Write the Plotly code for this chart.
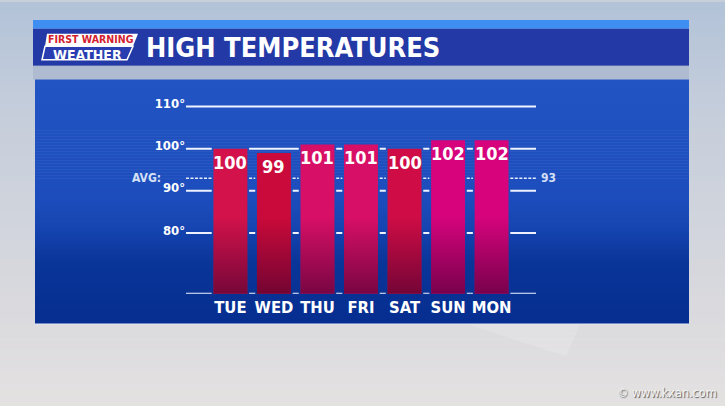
import plotly.graph_objects as go

# ---------------- data ----------------
days = ["TUE", "WED", "THU", "FRI", "SAT", "SUN", "MON"]
highs = [100, 99, 101, 101, 100, 102, 102]
bar_colors = ["#d3124b", "#ca0a3a", "#d80f66", "#d80f66", "#cf0c45", "#d6037c", "#d6037c"]
avg_temp = 93
tick_vals = [80, 90, 100, 110]
tick_text = ["80°", "90°", "100°", "110°"]
title_text = "HIGH TEMPERATURES"

# ---------------- layout constants ----------------
W, H = 725, 406
Y_MIN, Y_MAX = 65.6, 112
X_MIN, X_MAX = -1.02, 7.02
BAR_W = 0.78
GAP = 0.04
FONT = "DejaVu Sans Condensed, Arial Narrow, sans-serif"


def px(x):
    return x / W


def py(y):
    return 1 - y / H


def hex2rgb(h):
    h = h.lstrip("#")
    return tuple(int(h[i:i + 2], 16) for i in (0, 2, 4))


def interp(stops, y):
    for (y0, c0), (y1, c1) in zip(stops, stops[1:]):
        if y0 <= y <= y1:
            t = (y - y0) / (y1 - y0) if y1 > y0 else 0
            a, b = hex2rgb(c0), hex2rgb(c1)
            return "rgb(%d,%d,%d)" % tuple(round(a[k] + (b[k] - a[k]) * t) for k in range(3))
    return stops[-1][1]


shapes = []


def band_gradient(x0, x1, y0, y1, stops, step=3):
    y = y0
    while y < y1:
        ye = min(y + step, y1)
        shapes.append(dict(type="rect", xref="paper", yref="paper", layer="below",
                           x0=px(x0), x1=px(x1), y0=py(ye + 0.5), y1=py(y),
                           fillcolor=interp(stops, (y + ye) / 2), line_width=0))
        y = ye


def poly(points, **kw):
    path = "M " + " L ".join("%f,%f" % (px(a), py(b)) for a, b in points) + " Z"
    d = dict(type="path", xref="paper", yref="paper", path=path)
    d.update(kw)
    shapes.append(d)


# sky background
band_gradient(0, W, 0, H, [(0, "#b3c3d8"), (120, "#c6cedb"), (330, "#dcdbde"), (406, "#e4e1e1")], step=6)
# header
shapes.append(dict(type="rect", xref="paper", yref="paper", layer="below",
                   x0=px(33), x1=px(689), y0=py(27), y1=py(18), fillcolor="#3f8ef2", line_width=0))
shapes.append(dict(type="rect", xref="paper", yref="paper", layer="below",
                   x0=px(33), x1=px(689), y0=py(64), y1=py(27), fillcolor="#2339a6", line_width=0))
# strip between header and panel
shapes.append(dict(type="rect", xref="paper", yref="paper", layer="below",
                   x0=px(33), x1=px(689), y0=py(78), y1=py(64), fillcolor="rgba(160,175,200,0.55)", line_width=0))
# panel
band_gradient(35, 689, 78, 323, [(78, "#2254c4"), (195, "#1d4dbd"), (228, "#1644b0"),
                                 (262, "#0a3598"), (323, "#062e90")], step=3)
shapes.append(dict(type="line", xref="paper", yref="paper", layer="below",
                   x0=px(35), x1=px(689), y0=py(323.5), y1=py(323.5),
                   line=dict(color="rgba(235,240,255,0.8)", width=1)))
# faint sheet below the panel
poly([(468, 324), (580, 324), (566, 356)], layer="below",
     fillcolor="rgba(255,255,255,0.16)", line_width=0)

# logo
poly([(47, 32), (138, 32), (133, 44.5), (45, 44.5)], fillcolor="#ffffff", line_width=0)
poly([(45, 44.5), (133, 44.5), (127, 58), (42, 58)], fillcolor="#2a3db0",
     line=dict(color="#ffffff", width=1.5))

fig = go.Figure()


def segments(yv, breaks):
    xs, ys = [], []
    start = X_MIN
    for i in breaks:
        xs += [start, i - BAR_W / 2 - GAP, None]
        ys += [yv, yv, None]
        start = i + BAR_W / 2 + GAP
    xs += [start, X_MAX, None]
    ys += [yv, yv, None]
    return xs, ys


gx, gy = [], []
for yv in [Y_MIN] + tick_vals:
    br = [i for i, v in enumerate(highs) if v >= yv - 0.3]
    a, b = segments(yv, br)
    gx += a
    gy += b

fig.add_trace(go.Scatter(x=gx, y=gy, mode="lines", line=dict(color="#eef3ff", width=2),
                         hoverinfo="skip", showlegend=False, cliponaxis=False))

ax_, ay_ = segments(avg_temp, [i for i, v in enumerate(highs) if v >= avg_temp])
fig.add_trace(go.Scatter(x=ax_, y=ay_, mode="lines",
                         line=dict(color="#e6eeff", width=1.5, dash="3px,1.5px"),
                         hoverinfo="skip", showlegend=False, cliponaxis=False))

# bars
fig.add_trace(go.Bar(x=list(range(len(days))), y=highs, width=BAR_W,
                     marker=dict(color=bar_colors, line=dict(width=0)),
                     hoverinfo="skip", showlegend=False))

# bottom darkening of bars
ox, oy = [], []
for i, v in enumerate(highs):
    l, r = i - BAR_W / 2, i + BAR_W / 2
    ox += [l, r, r, l, l, None]
    oy += [Y_MIN, Y_MIN, 84, 84, Y_MIN, None]
fig.add_trace(go.Scatter(x=ox, y=oy, mode="lines", fill="toself", line=dict(width=0),
                         fillgradient=dict(type="vertical",
                                           colorscale=[[0, "rgba(60,0,45,0.62)"],
                                                       [1, "rgba(60,0,45,0)"]],
                                           start=Y_MIN, stop=84),
                         hoverinfo="skip", showlegend=False))

annotations = []
for i, v in enumerate(highs):
    annotations.append(dict(x=i, y=v, xref="x", yref="y", text=str(v), showarrow=False,
                            yanchor="top", yshift=-1,
                            font=dict(family=FONT, size=18, color="#ffffff", weight="bold")))

annotations.append(dict(x=px(163), y=avg_temp, xref="paper", yref="y", text="AVG:", showarrow=False,
                        xanchor="right", yanchor="middle",
                        font=dict(family=FONT, size=12, color="#d4e0f6", weight="bold")))
annotations.append(dict(x=px(539), y=avg_temp, xref="paper", yref="y", text=str(avg_temp),
                        showarrow=False, xanchor="left", yanchor="middle",
                        font=dict(family=FONT, size=12, color="#d4e0f6", weight="bold")))

annotations.append(dict(x=px(144), y=py(46), xref="paper", yref="paper", text=title_text,
                        showarrow=False, xanchor="left", yanchor="middle",
                        font=dict(family=FONT, size=27, color="#ffffff", weight="bold")))
annotations.append(dict(x=px(91), y=py(44.5), xref="paper", yref="paper", text="FIRST WARNING",
                        showarrow=False, xanchor="center", yanchor="bottom", borderpad=0,
                        font=dict(family=FONT, size=10.5, color="#d3202f", weight="bold")))
annotations.append(dict(x=px(87), y=py(44.5), xref="paper", yref="paper", text="WEATHER",
                        showarrow=False, xanchor="center", yanchor="top", borderpad=0,
                        font=dict(family=FONT, size=14, color="#ffffff", weight="bold")))
annotations.append(dict(x=px(719), y=py(392), xref="paper", yref="paper", text="© www.kxan.com",
                        showarrow=False, xanchor="right", yanchor="middle",
                        font=dict(family=FONT, size=12.5, color="#f4f4f4",
                                  shadow="1px 1px 1px #555")))

fig.update_layout(
    width=W, height=H, margin=dict(l=0, r=0, t=0, b=0),
    paper_bgcolor="#c6ced9", plot_bgcolor="rgba(0,0,0,0)",
    shapes=shapes, annotations=annotations, showlegend=False,
    xaxis=dict(domain=[px(186), px(536)], range=[X_MIN, X_MAX], tickmode="array",
               tickvals=list(range(len(days))), ticktext=days, showgrid=False, zeroline=False,
               showline=False, ticks="", ticklabelstandoff=2, tickangle=0,
               tickfont=dict(family=FONT, size=16.5, color="#ffffff", weight="bold"), fixedrange=True),
    yaxis=dict(domain=[py(293.3), py(96.5)], range=[Y_MIN, Y_MAX], tickmode="array",
               tickvals=tick_vals, ticktext=tick_text, showgrid=False, zeroline=False,
               showline=False, ticks="", ticklabelstandoff=0, ticklabelshift=-3,
               tickfont=dict(family=FONT, size=13, color="#ffffff", weight="bold"), fixedrange=True),
)

fig.write_html("out.html", config={"displayModeBar": False},
               post_script="document.body.style.margin='0px';")
